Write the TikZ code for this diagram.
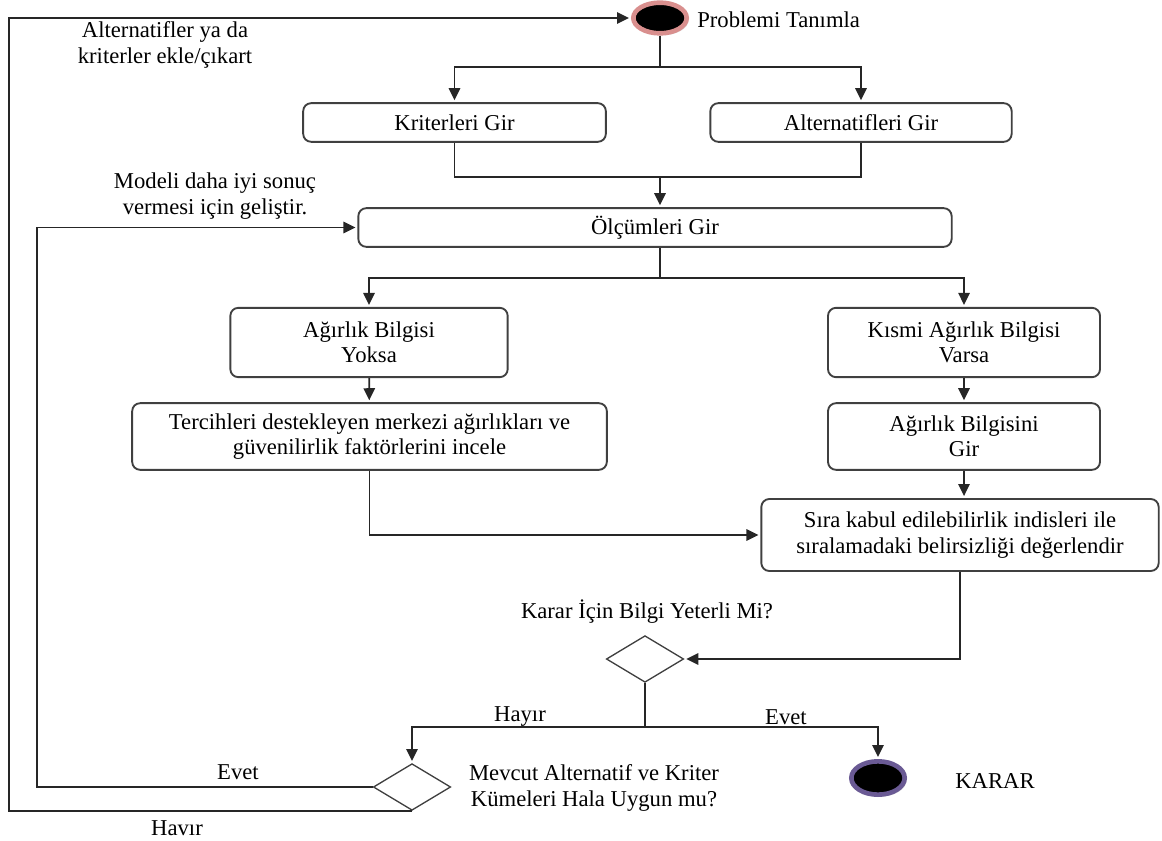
\documentclass[tikz,border=0pt]{standalone}
\usepackage{fontspec}
\setmainfont{Liberation Serif}
\usetikzlibrary{positioning}
\usetikzlibrary{shapes.geometric,shadows}
\usetikzlibrary{arrows.meta}

\definecolor{pembe}{HTML}{D98F8E}
\definecolor{mor}{HTML}{6A5A94}

\tikzset{
  adim/.style={draw=black!75, line width=1.4pt, rounded corners=6pt,
               align=center, inner sep=0pt},
  karar/.style={diamond, draw=black!75, line width=1pt, inner sep=0pt,
                minimum width=58pt, minimum height=35pt},
  durum/.style={ellipse, fill=black, line width=3.5pt, inner sep=0pt,
                minimum width=40pt, minimum height=23pt,
                drop shadow={opacity=.25, shadow xshift=1.5pt, shadow yshift=-1.5pt}},
  hat/.style={draw=black!85, line width=1.4pt},
  ok/.style={hat, shorten >=1.5pt, -{Triangle[length=9pt,width=8.5pt]}},
  yazi/.style={align=center, inner sep=0pt},
}

\begin{document}
\begin{tikzpicture}[x=0.75pt, y=-0.75pt, font=\fontsize{17}{19}\selectfont]
    \useasboundingbox (0,0) rectangle (1162,841);

    % baslangic
    \node (bas) [durum, draw=pembe] at (660,18) {};
    \node (basyazi) [yazi, anchor=west] at (697,20) {Problemi Tanımla};

    % kutular
    \node (kriter) [adim, minimum width=227pt, minimum height=29pt] at (454.5,122.5) {Kriterleri Gir};
    \node (alter)  [adim, minimum width=226pt, minimum height=29pt] at (861,122.5) {Alternatifleri Gir};
    \node (olcum)  [adim, minimum width=445pt, minimum height=29pt] at (655,227.5) {Ölçümleri Gir};
    \node (yoksa)  [adim, minimum width=208pt, minimum height=52pt] at (369,342.5) {Ağırlık Bilgisi\\Yoksa};
    \node (varsa)  [adim, minimum width=204pt, minimum height=52pt] at (964,342.5) {Kısmi Ağırlık Bilgisi\\Varsa};
    \node (tercih) [adim, minimum width=356pt, minimum height=50pt] at (369.5,436.5) {Tercihleri destekleyen merkezi ağırlıkları ve\\güvenilirlik faktörlerini incele};
    \node (agirlik) [adim, minimum width=204pt, minimum height=50pt] at (964,436.5) {Ağırlık Bilgisini\\Gir};
    \node (sira)   [adim, minimum width=298pt, minimum height=54pt] at (960,535) {Sıra kabul edilebilirlik indisleri ile\\sıralamadaki belirsizliği değerlendir};

    % kararlar
    \node (soru1) [karar] at (645,659) {};
    \node (soru1yazi) [yazi] at (647,612) {Karar İçin Bilgi Yeterli Mi?};
    \node (soru2) [karar] at (412,787) {};
    \node (soru2yazi) [yazi] at (594,788) {Mevcut Alternatif ve Kriter\\Kümeleri Hala Uygun mu?};

    % bitis
    \node (son) [durum, draw=mor, minimum height=25pt] at (878,778) {};
    \node (sonyazi) [yazi] at (995,781) {KARAR};

    % ara noktalar
    \coordinate (c1) at (660,67);
    \coordinate (c2) at (660,177);
    \coordinate (c3) at (660,278);
    \coordinate (c4) at (645,727);
    \coordinate (sol1) at (37,500);
    \coordinate (sol2) at (9,400);

    \draw[hat] (bas) -- (c1);
    \draw[ok] (c1) -| (kriter.north);
    \draw[ok] (c1) -| (alter.north);

    \draw[hat] (kriter.south) |- (c2);
    \draw[hat] (alter.south) |- (c2);
    \draw[ok] (c2) -- (c2 |- olcum.north);

    \draw[hat] (c3 |- olcum.south) -- (c3);
    \draw[ok] (c3) -| (yoksa.north);
    \draw[ok] (c3) -| (varsa.north);

    \draw[ok] (yoksa) -- (tercih);
    \draw[ok] (varsa) -- (agirlik);
    \draw[ok] (agirlik.south) -- (agirlik.south |- sira.north);
    \draw[ok] (tercih.south) |- (sira.west);
    \draw[ok] (sira.south) |- (soru1.east);

    \draw[hat] (soru1.south) -- (c4);
    \draw[ok] (c4) -| (soru2.north);
    \draw[ok] (c4) -| (son.north);
    \node (hayir1) [yazi] at (520,717) {Hayır};
    \node (evet1)  [yazi] at (786,717) {Evet};

    \draw[ok] (soru2.west) -| (sol1) |- (olcum.west);
    \draw[ok] (soru2.south) -| (sol2) |- (bas.west);
    \node (evet2)  [yazi] at (238,772) {Evet};
    \node (hayir2) [yazi] at (177,828) {Havır};
    \node (geri1)  [yazi] at (215,196) {Modeli daha iyi sonuç\\vermesi için geliştir.};
    \node (geri2)  [yazi] at (165,45) {Alternatifler ya da\\kriterler ekle/çıkart};

\end{tikzpicture}
\end{document}
